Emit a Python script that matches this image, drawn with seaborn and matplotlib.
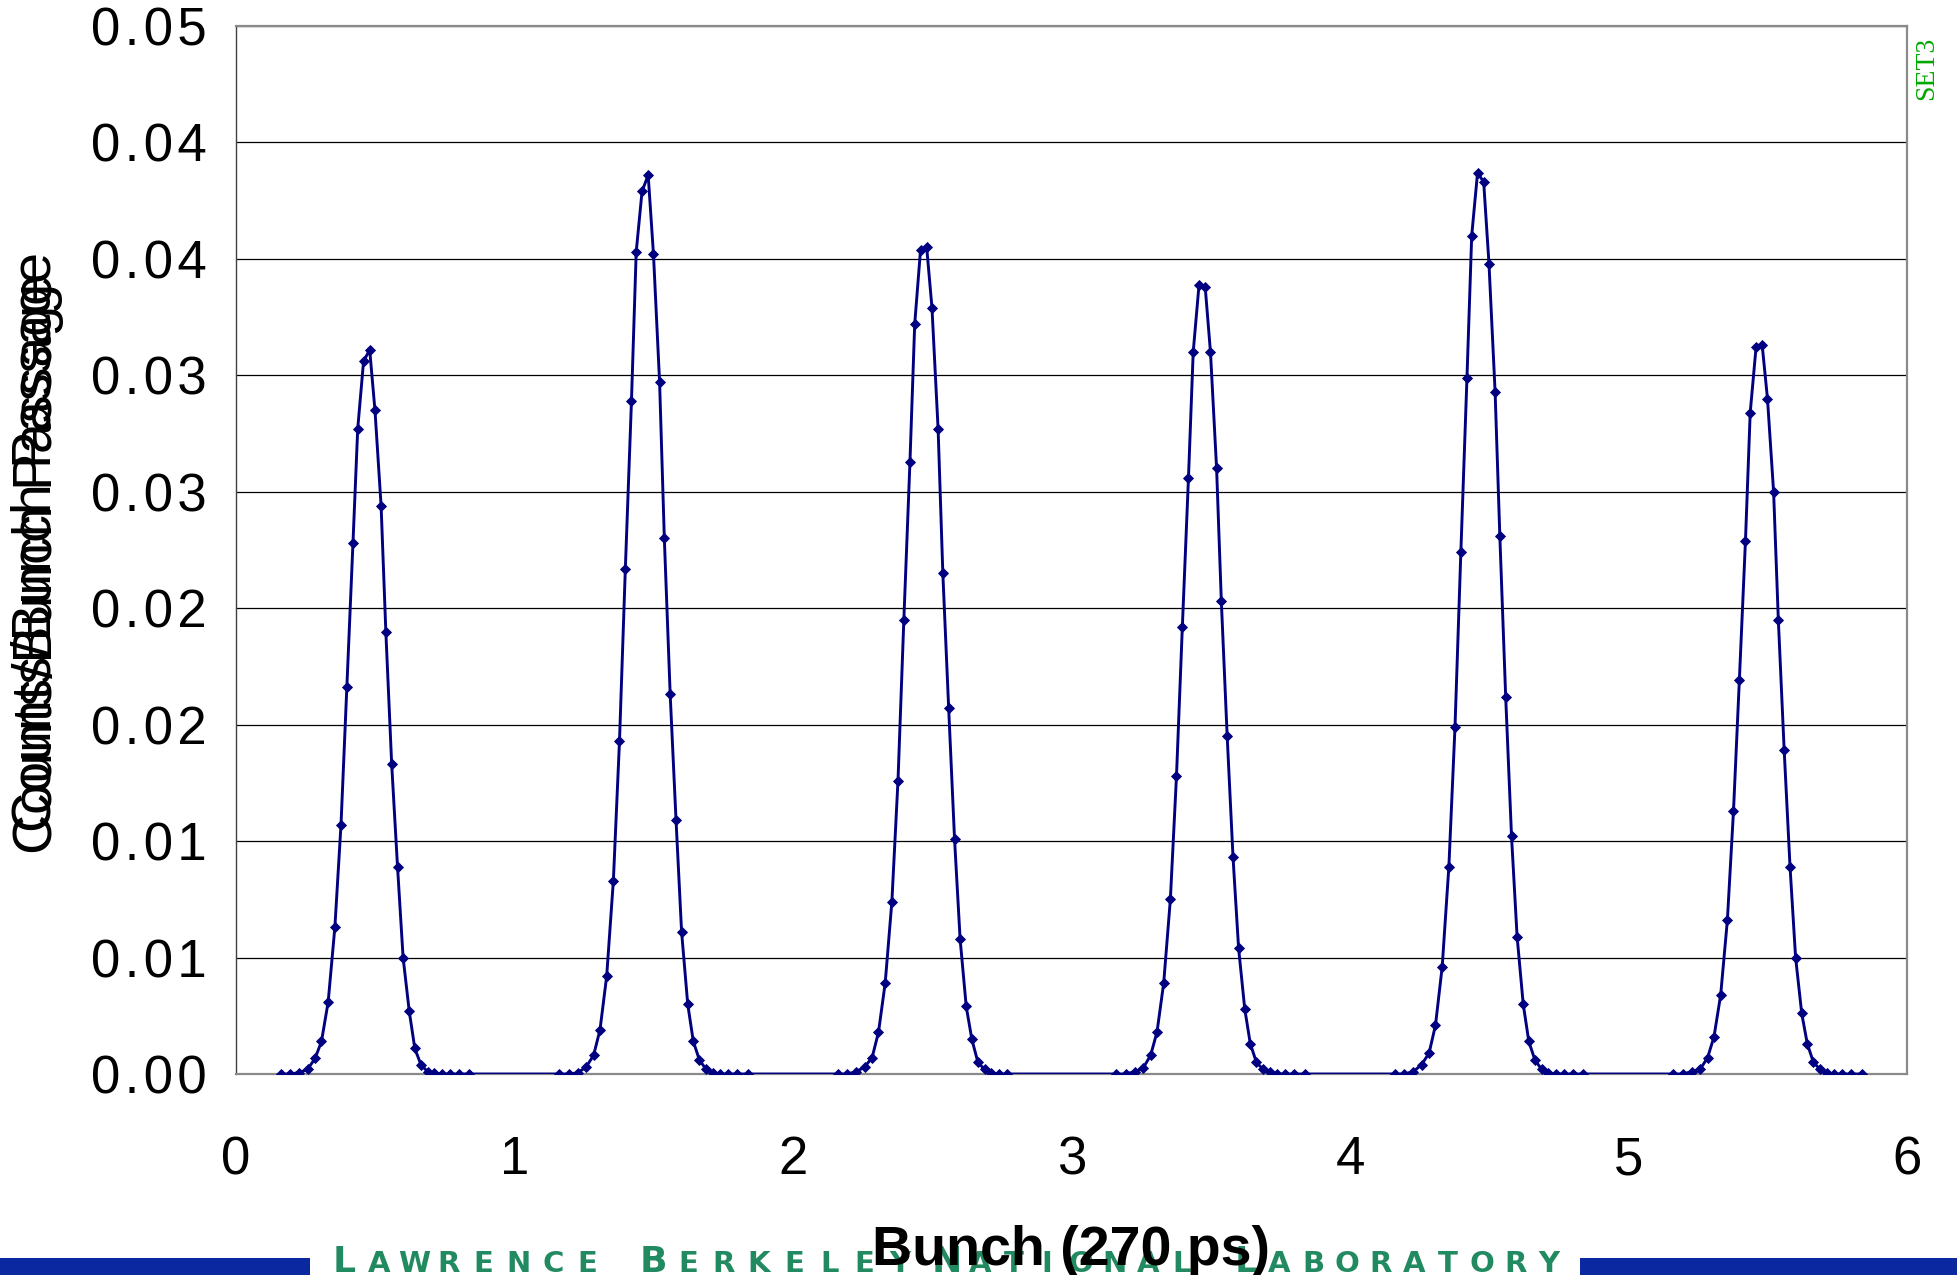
import numpy as np
import pandas as pd
import matplotlib
matplotlib.use("Agg")
import matplotlib.pyplot as plt
from matplotlib.patches import Rectangle
from matplotlib.ticker import FixedLocator, FixedFormatter
import seaborn as sns

# ---- data -----------------------------------------------------------------
# bunch numbers (one peak per bunch)
bunches = [0, 1, 2, 3, 4, 5]

# time bin positions inside a bunch (units of one 270 ps bunch spacing)
bin_offsets = [0.160, 0.195, 0.227, 0.257, 0.284, 0.307, 0.331, 0.355, 0.377,
               0.398, 0.420, 0.437, 0.458, 0.480, 0.499, 0.521, 0.538, 0.559,
               0.580, 0.600, 0.622, 0.642, 0.664, 0.688, 0.712, 0.739, 0.768,
               0.800, 0.837]

# counts per bunch passage in each bin, one list per bunch
counts_b0 = [0.0, 0.0, 0.00006, 0.0002, 0.00067, 0.0014, 0.0031, 0.0063, 0.0107,
             0.0166, 0.0228, 0.0277, 0.0306, 0.0311, 0.0285, 0.0244, 0.0190, 0.0133,
             0.0089, 0.0050, 0.0027, 0.0011, 0.0004, 0.0001, 0.00004, 0.0, 0.0,
             0.0, 0.0]
counts_b1 = [0.0, 0.0, 0.00005, 0.0003, 0.0008, 0.0019, 0.0042, 0.0083, 0.0143,
             0.0217, 0.0289, 0.0353, 0.0379, 0.0386, 0.0352, 0.0297, 0.0230, 0.0163,
             0.0109, 0.0061, 0.0030, 0.0014, 0.0006, 0.0002, 0.00005, 0.0, 0.0,
             0.0, 0.0]
counts_b2 = [0.0, 0.0, 0.0001, 0.0003, 0.0007, 0.0018, 0.0039, 0.0074, 0.0126,
             0.0195, 0.0263, 0.0322, 0.0354, 0.0355, 0.0329, 0.0277, 0.0215, 0.0157,
             0.0101, 0.0058, 0.0029, 0.0015, 0.0005, 0.0002, 0.00005, 0.0, 0.0]
counts_b3 = [0.0, 0.0, 0.0001, 0.00025, 0.0008, 0.0018, 0.0039, 0.0075, 0.0128,
             0.0192, 0.0256, 0.0310, 0.0339, 0.0338, 0.0310, 0.0260, 0.0203, 0.0145,
             0.0093, 0.0054, 0.0028, 0.0013, 0.0005, 0.0002, 0.0001, 0.0, 0.0,
             0.0, 0.0]
counts_b4 = [0.0, 0.0, 0.0001, 0.0004, 0.0009, 0.0021, 0.0046, 0.0089, 0.0149,
             0.0224, 0.0299, 0.0360, 0.0387, 0.0383, 0.0348, 0.0293, 0.0231, 0.0162,
             0.0102, 0.0059, 0.0030, 0.0014, 0.0006, 0.0002, 0.00005, 0.0, 0.0,
             0.0, 0.0]
counts_b5 = [0.0, 0.0, 0.0001, 0.0002, 0.0007, 0.0016, 0.0034, 0.0066, 0.0113,
             0.0169, 0.0229, 0.0284, 0.0312, 0.0313, 0.0290, 0.0250, 0.0195, 0.0139,
             0.0089, 0.0050, 0.0026, 0.0013, 0.0005, 0.0002, 0.00004, 0.0, 0.0,
             0.0, 0.0]

# axis ticks and their printed labels
x_ticks = [0, 1, 2, 3, 4, 5, 6]
x_tick_labels = ["0", "1", "2", "3", "4", "5", "6"]
y_ticks = [0.0, 0.005, 0.010, 0.015, 0.020, 0.025, 0.030, 0.035, 0.040, 0.045]
y_tick_labels = ["0.00", "0.01", "0.01", "0.02", "0.02", "0.03", "0.03",
                 "0.04", "0.04", "0.05"]

x_label = "Bunch (270 ps)"
y_label = "Counts/Bunch Passage"
set_name = "SET3"
lab_words = ["LAWRENCE", "BERKELEY", "NATIONAL", "LABORATORY"]

# ---- assemble one continuous series ---------------------------------------
all_counts = [counts_b0, counts_b1, counts_b2, counts_b3, counts_b4, counts_b5]
rows = []
for b, cts in zip(bunches, all_counts):
    for off, c in zip(bin_offsets, cts):
        rows.append({"bunch_time": b + off, "counts": c})
df = pd.DataFrame(rows)

# ---- style ----------------------------------------------------------------
sns.set_style("white")
plt.rcParams["font.family"] = ["Liberation Sans", "DejaVu Sans"]

W, H = 1957, 1275
fig = plt.figure(figsize=(W / 100, H / 100), dpi=100)
fig.patch.set_facecolor("white")

left, right, top, bottom = 236 / W, 1907 / W, 1 - 26 / H, 1 - 1074 / H
ax = fig.add_axes([left, bottom, right - left, top - bottom])

navy = "#000080"
sns.lineplot(data=df, x="bunch_time", y="counts", ax=ax, color=navy,
             linewidth=2.1, marker="D", markersize=5.5, markeredgewidth=0.6,
             markeredgecolor=navy, markerfacecolor=navy,
             estimator=None, sort=False, zorder=3)

ax.set_xlim(0, 6)
ax.set_ylim(0, 0.045)


def spaced(s):
    # loose letter spacing for the tick labels
    return "\u200a".join(s)


ax.xaxis.set_major_locator(FixedLocator(x_ticks))
ax.xaxis.set_major_formatter(FixedFormatter(x_tick_labels))
ax.yaxis.set_major_locator(FixedLocator(y_ticks))
ax.yaxis.set_major_formatter(FixedFormatter([spaced(t) for t in y_tick_labels]))
ax.set_xlabel("")
ax.set_ylabel("")

ax.yaxis.grid(True, color="#000000", linewidth=0.9)
ax.xaxis.grid(False)
ax.set_axisbelow(True)

ax.tick_params(axis="y", direction="out", length=13, width=0.9, pad=8,
               labelsize=38, colors="black")
ax.tick_params(axis="x", direction="out", length=13, width=0.9, pad=31,
               labelsize=38, colors="black")
ax.tick_params(axis="both", color="#333333")

ax.spines["left"].set_color("#404040")
ax.spines["left"].set_linewidth(1.0)
for s in ("top", "right", "bottom"):
    ax.spines[s].set_color("#8a8a8a")
    ax.spines[s].set_linewidth(1.6)

# ---- labels ---------------------------------------------------------------
cx = (left + right) / 2
fig.text(cx, 10 / H, x_label, ha="center", va="baseline", fontsize=40,
         fontweight="bold", color="black", zorder=10)

# the axis title is printed twice, slightly shifted along its length
for dx, dy in ((0, -11), (1, 11)):
    fig.text((37 + dx) / W, 1 - (553 + dy) / H, y_label, rotation=90,
             ha="center", va="center", fontsize=40, color="black")

fig.text(1927 / W, 1 - 68 / H, set_name, rotation=90, ha="center", va="center",
         fontsize=20, color="#00a800", family=["Liberation Serif", "DejaVu Serif"])

# ---- laboratory footer ----------------------------------------------------
band_blue = "#0a28a0"
band_h = 17 / H
fig.patches.append(Rectangle((0, 0), 310 / W, band_h, transform=fig.transFigure,
                             facecolor=band_blue, edgecolor="none", zorder=1))
fig.patches.append(Rectangle((1580 / W, 0), 1 - 1580 / W, band_h,
                             transform=fig.transFigure, facecolor=band_blue,
                             edgecolor="none", zorder=1))

lab_green = "#228a60"
word_spans = [(327, 605), (636, 917), (930, 1198), (1229, 1566)]
for word, (x0, x1) in zip(lab_words, word_spans):
    pitch = (x1 - x0) / len(word)
    for i, ch in enumerate(word):
        xc = x0 + (i + 0.5) * pitch
        fs = 26 if i == 0 else 21
        fig.text(xc / W, 3 / H, ch, ha="center", va="baseline", fontsize=fs,
                 color=lab_green, family=["DejaVu Sans"], fontweight="bold",
                 zorder=5)

fig.savefig("out.png", dpi=100, facecolor="white")
